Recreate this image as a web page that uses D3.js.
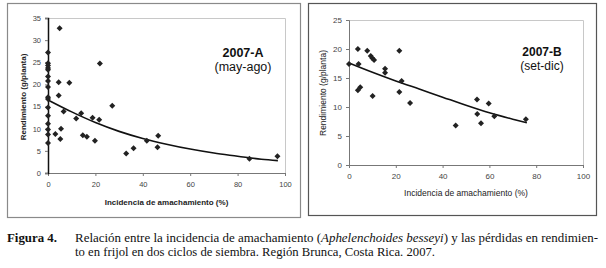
<!DOCTYPE html>
<html>
<head>
<meta charset="utf-8">
<script src="https://cdn.jsdelivr.net/npm/d3@7"></script>
<style>
  body { margin: 0; background: #fff; }
  svg { display: block; }
  .tick text { font-family: "Liberation Sans", Arial, sans-serif; fill: #444; }
</style>
</head>
<body>
<div id="chart"></div>
<script>
// panel A (may-ago)
const aX = [0, 0, 0, 0, 0, 0, 0, 0, 0, 0, 0, 0, 0, 0, 0, 0,
            4.9, 4.5, 9.0, 4.5, 21.9, 27.1, 6.6, 14.0, 11.9, 18.8, 21.6, 5.5,
            3.1, 5.2, 14.7, 16.4, 19.8, 33.0, 36.1, 41.7, 46.5, 46.2, 85.0, 96.8];
const aY = [27.2, 24.8, 24.3, 23.7, 23.3, 21.8, 20.8, 19.4, 17.1, 16.7, 14.8, 12.9, 11.1, 9.8, 8.7, 6.8,
            32.7, 20.5, 20.4, 17.5, 24.7, 15.2, 13.9, 13.5, 12.3, 12.5, 12.0, 10.0,
            8.8, 7.7, 8.5, 8.2, 7.3, 4.4, 5.6, 7.3, 8.4, 5.8, 3.2, 3.8];
const aTrendX = [0, 10, 20, 30, 40, 50, 60, 70, 80, 90, 97];
const aTrendY = [16.5, 13.8, 11.4, 9.4, 7.8, 6.5, 5.4, 4.5, 3.8, 3.1, 2.8];

// panel B (set-dic)
const bX = [0, 3.8, 4.1, 3.8, 4.8, 7.8, 9.3, 10.0, 10.7, 10.1, 15.4, 15.4, 21.5, 21.5, 22.5, 26.1,
            45.6, 54.7, 54.8, 56.4, 59.7, 62.1, 75.6];
const bY = [17.4, 20.0, 17.4, 12.9, 13.4, 19.7, 18.8, 18.4, 18.1, 11.9, 16.6, 15.9, 19.7, 12.6, 14.5, 10.7,
            6.8, 11.3, 8.8, 7.2, 10.6, 8.4, 7.9];
const bTrendX = [0, 10, 20, 30, 40, 50, 60, 70, 76];
const bTrendY = [17.6, 16.0, 14.5, 13.1, 11.7, 10.3, 9.0, 7.9, 7.3];

const xTicks = [0, 20, 40, 60, 80, 100];
const aYTicks = [0, 5, 10, 15, 20, 25, 30, 35];
const bYTicks = [0, 5, 10, 15, 20, 25];

const xTitle = "Incidencia de amachamiento (%)";
const yTitle = "Rendimiento (g/planta)";

const W = 606, H = 268;
const sans = "'Liberation Sans', Arial, sans-serif";
const serif = "'Liberation Serif', 'Times New Roman', serif";

const svg = d3.select("#chart").append("svg")
    .attr("width", W)
    .attr("height", H);

function drawPanel(p) {
    // frame
    svg.append("rect")
        .attr("x", p.box[0] + 0.5).attr("y", p.box[1] + 0.5)
        .attr("width", p.box[2] - p.box[0]).attr("height", p.box[3] - p.box[1])
        .attr("fill", "none")
        .attr("stroke", p.frame)
        .attr("stroke-width", 1.2);

    let x = d3.scaleLinear().domain([0, 100]).range(p.xr);
    let y = d3.scaleLinear().domain([0, p.yMax]).range(p.yr);

    // plot area top/right border
    svg.append("path")
        .attr("d", `M${p.xr[0]},${p.yr[1] + 0.5}H${p.xr[1] + 0.5}V${p.yr[0]}`)
        .attr("fill", "none")
        .attr("stroke", "#c8c8c8")
        .attr("stroke-width", 1);

    let xAxis = svg.append("g")
        .attr("transform", `translate(0,${p.yr[0]})`)
        .call(d3.axisBottom(x).tickValues(xTicks).tickSize(3).tickPadding(p.xPad));
    xAxis.selectAll("text").style("font-size", p.tickSize + "px");
    xAxis.select(".domain").attr("stroke", "#777");
    xAxis.selectAll(".tick line").attr("stroke", "#777");

    let yAxis = svg.append("g")
        .attr("transform", `translate(${p.xr[0]},0)`)
        .call(d3.axisLeft(y).tickValues(p.yTicks).tickSize(3).tickPadding(4));
    yAxis.selectAll("text").style("font-size", p.tickSize + "px");
    yAxis.select(".domain").attr("stroke", p.yAxisColor).attr("stroke-width", p.yAxisWidth);
    yAxis.selectAll(".tick line").attr("stroke", "#777");

    // trend line
    let line = d3.line()
        .x((d, i) => x(p.tx[i]))
        .y(d => y(d))
        .curve(d3.curveMonotoneX);
    svg.append("path")
        .datum(p.ty)
        .attr("d", line)
        .attr("fill", "none")
        .attr("stroke", "#111")
        .attr("stroke-width", 1.6);

    // points
    let sym = d3.symbol().type(d3.symbolSquare).size(18);
    svg.selectAll(null)
        .data(p.px)
        .enter().append("path")
        .attr("d", sym)
        .attr("transform", (d, i) => `translate(${x(d)},${y(p.py[i])}) rotate(45)`)
        .attr("fill", "#222");

    // axis titles
    svg.append("text")
        .attr("x", (p.xr[0] + p.xr[1]) / 2)
        .attr("y", p.xTitleY)
        .attr("text-anchor", "middle")
        .style("font-family", sans)
        .style("font-size", p.titleSize + "px")
        .style("font-weight", p.titleWeight)
        .style("fill", "#222")
        .text(xTitle);

    svg.append("text")
        .attr("transform", `translate(${p.yTitleX},${p.yTitleY}) rotate(-90)`)
        .attr("text-anchor", "middle")
        .style("font-family", sans)
        .style("font-size", p.titleSize + "px")
        .style("font-weight", p.titleWeight)
        .style("fill", "#222")
        .text(yTitle);

    // label
    svg.append("text")
        .attr("x", p.labelX).attr("y", p.labelY)
        .attr("text-anchor", "middle")
        .style("font-family", sans)
        .style("font-size", p.labelSize + "px")
        .style("font-weight", "bold")
        .style("fill", "#111")
        .text(p.label1);
    svg.append("text")
        .attr("x", p.labelX).attr("y", p.labelY + p.labelGap)
        .attr("text-anchor", "middle")
        .style("font-family", sans)
        .style("font-size", p.labelSize + "px")
        .style("fill", "#111")
        .text(p.label2);
}

drawPanel({
    box: [7, 3, 300, 217], frame: "#8a8a8a",
    xr: [48, 285], yr: [173, 18], yMax: 35, yTicks: aYTicks,
    px: aX, py: aY, tx: aTrendX, ty: aTrendY,
    tickSize: 7.5, xPad: 6, titleSize: 8, titleWeight: "bold",
    yAxisColor: "#111", yAxisWidth: 1.5,
    xTitleY: 205, yTitleX: 26, yTitleY: 97,
    label1: "2007-A", label2: "(may-ago)", labelX: 243, labelY: 57, labelGap: 14, labelSize: 12.5
});

drawPanel({
    box: [308, 3, 596, 215], frame: "#555",
    xr: [349, 583], yr: [165, 20], yMax: 25, yTicks: bYTicks,
    px: bX, py: bY, tx: bTrendX, ty: bTrendY,
    tickSize: 8, xPad: 5, titleSize: 8.5, titleWeight: "normal",
    yAxisColor: "#777", yAxisWidth: 1,
    xTitleY: 196, yTitleX: 326, yTitleY: 93,
    label1: "2007-B", label2: "(set-dic)", labelX: 542, labelY: 56, labelGap: 13.5, labelSize: 12
});

// caption
svg.append("text")
    .attr("x", 7).attr("y", 242)
    .style("font-family", serif)
    .style("font-size", "12px")
    .style("font-weight", "bold")
    .style("fill", "#111")
    .attr("textLength", 50)
    .attr("lengthAdjust", "spacingAndGlyphs")
    .text("Figura 4.");

let cap = svg.append("text")
    .attr("x", 75).attr("y", 242)
    .style("font-family", serif)
    .style("font-size", "12px")
    .style("fill", "#111");
cap.append("tspan").text("Relación entre la incidencia de amachamiento (");
cap.append("tspan").style("font-style", "italic").text("Aphelenchoides besseyi");
cap.append("tspan").text(") y las pérdidas en rendimien-");
cap.attr("textLength", 523).attr("lengthAdjust", "spacingAndGlyphs");

svg.append("text")
    .attr("x", 75).attr("y", 256)
    .style("font-family", serif)
    .style("font-size", "12px")
    .style("fill", "#111")
    .attr("textLength", 360)
    .attr("lengthAdjust", "spacingAndGlyphs")
    .text("to en frijol en dos ciclos de siembra. Región Brunca, Costa Rica. 2007.");
</script>
</body>
</html>
